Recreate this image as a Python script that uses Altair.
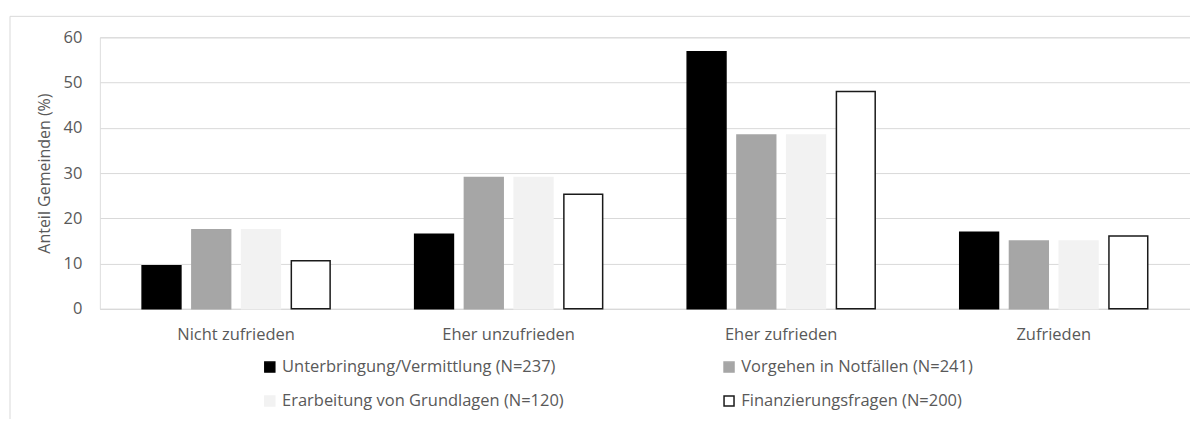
import altair as alt
import pandas as pd

categories = ["Nicht zufrieden", "Eher unzufrieden", "Eher zufrieden", "Zufrieden"]
series = [
    "Unterbringung/Vermittlung (N=237)",
    "Vorgehen in Notfällen (N=241)",
    "Erarbeitung von Grundlagen (N=120)",
    "Finanzierungsfragen (N=200)",
]
unterbringung = [9.5, 16.5, 56.8, 16.9]
notfaelle = [17.5, 29.0, 38.4, 15.0]
grundlagen = [17.5, 29.0, 38.4, 15.0]
finanzierung = [10.6, 25.3, 48.0, 16.1]
y_ticks = [0, 10, 20, 30, 40, 50, 60]

fills = ["#000000", "#a6a6a6", "#f2f2f2", "#ffffff"]
strokes = ["#000000", "#a6a6a6", "#f2f2f2", "#1a1a1a"]

rows = []
for s, vals in zip(series, [unterbringung, notfaelle, grundlagen, finanzierung]):
    for c, v in zip(categories, vals):
        rows.append({"Kategorie": c, "Serie": s, "Wert": v})
df = pd.DataFrame(rows)

FONT = "Open Sans"
TXT = "#595959"
AX = 16.5

bars = alt.Chart(df).mark_bar(strokeWidth=1.5).encode(
    x=alt.X("Kategorie:N", sort=categories, title=None,
            scale=alt.Scale(paddingInner=0.27, paddingOuter=0.135),
            axis=alt.Axis(labelAngle=0, ticks=False, domainColor="#d9d9d9",
                          labelPadding=18, labelFontSize=AX, labelColor=TXT,
                          labelFont=FONT, grid=False)),
    xOffset=alt.XOffset("Serie:N", sort=series,
                        scale=alt.Scale(paddingInner=0.22, paddingOuter=0.11)),
    y=alt.Y("Wert:Q", title="Anteil Gemeinden (%)",
            scale=alt.Scale(domain=[0, 60], nice=False),
            axis=alt.Axis(values=y_ticks, ticks=False, domain=False,
                          gridColor="#d9d9d9", labelPadding=18,
                          labelFontSize=AX, labelColor=TXT, labelFont=FONT,
                          titleFont=FONT, titleFontSize=16, titleColor=TXT,
                          titleFontWeight="normal", titleX=-55, titleY=136,
                          titleAngle=-90, titleBaseline="middle",
                          titleAlign="center")),
    fill=alt.Fill("Serie:N", sort=series,
                  scale=alt.Scale(domain=series, range=fills),
                  legend=alt.Legend(title=None, orient="none", legendX=162,
                                    legendY=322, columns=2, direction="horizontal",
                                    columnPadding=157, rowPadding=17,
                                    symbolType="square", symbolSize=100,
                                    symbolStrokeWidth=1.5, symbolOffset=0,
                                    labelFontSize=16.5, labelColor=TXT,
                                    labelFont=FONT, labelLimit=400,
                                    labelOffset=4, padding=0)),
    stroke=alt.Stroke("Serie:N", sort=series,
                      scale=alt.Scale(domain=series, range=strokes)),
)

border_left = alt.Chart().mark_rule(color="#d9d9d9", strokeWidth=1).encode(
    x=alt.value(-90), y=alt.value(-21), y2=alt.value(400))
border_top = alt.Chart().mark_rule(color="#d9d9d9", strokeWidth=1).encode(
    x=alt.value(-90), x2=alt.value(1100), y=alt.value(-21))

chart = alt.layer(border_left, border_top, bars).properties(
    width=1092, height=272,
    autosize=alt.AutoSizeParams(type="none"),
    padding={"left": 92, "top": 29, "right": 0, "bottom": 110},
).configure_view(stroke=None).configure(background="#ffffff")

chart.save("out.html", embed_options={"renderer": "svg", "actions": False})
